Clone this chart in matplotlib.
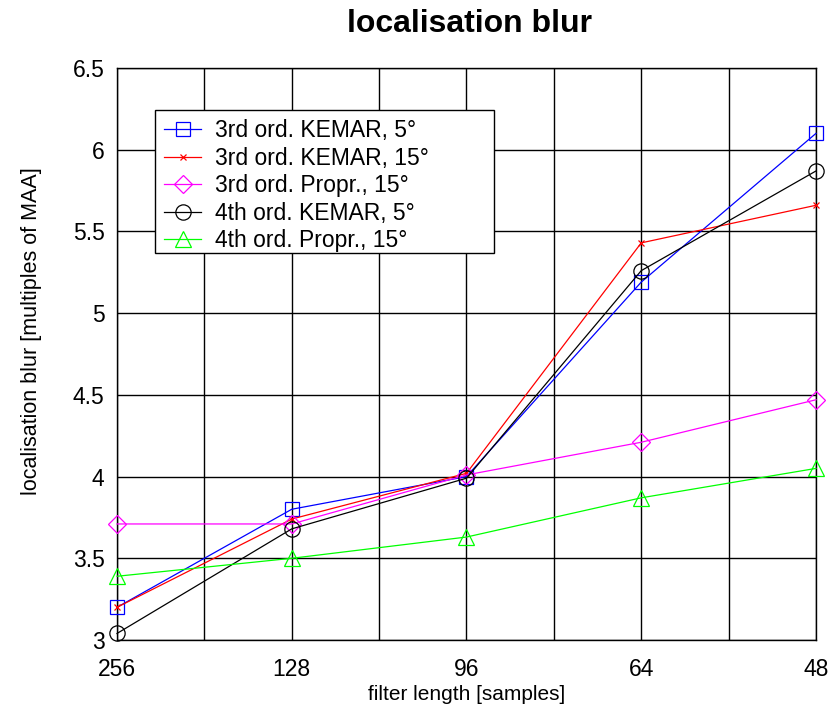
import matplotlib.pyplot as plt
from matplotlib.patches import Rectangle
import numpy as np

plt.rcParams['font.family'] = ['Liberation Sans', 'DejaVu Sans']

# filter lengths (evenly spaced on the x axis)
filter_labels = ['256', '128', '96', '64', '48']

# localisation blur in multiples of MAA
kemar3_5 = [3.20, 3.80, 4.00, 5.19, 6.10]
kemar3_15 = [3.20, 3.74, 4.02, 5.43, 5.66]
propr3_15 = [3.71, 3.71, 4.01, 4.21, 4.47]
kemar4_5 = [3.04, 3.68, 3.99, 5.26, 5.87]
propr4_15 = [3.39, 3.50, 3.63, 3.87, 4.05]

series = [
    ('3rd ord. KEMAR, 5°', kemar3_5, (0, 0, 1), 's', 10),
    ('3rd ord. KEMAR, 15°', kemar3_15, (1, 0, 0), 'x', 5),
    ('3rd ord. Propr., 15°', propr3_15, (1, 0, 1), 'D', 9),
    ('4th ord. KEMAR, 5°', kemar4_5, (0, 0, 0), 'o', 11),
    ('4th ord. Propr., 15°', propr4_15, (0, 1, 0), '^', 11),
]

fig = plt.figure(figsize=(8.37, 7.10), dpi=100)
ax = fig.add_axes([117 / 837, 1 - 640 / 710, (816 - 117) / 837, (640 - 68) / 710])

x = np.arange(1, len(filter_labels) + 1)
for name, vals, col, mk, ms in series:
    ax.plot(x, vals, color=col, lw=0.9, marker=mk, ms=ms, mfc='none',
            mec=col, mew=0.9, label=name, clip_on=False, zorder=3)

ax.set_xlim(1, 5)
ax.set_ylim(3, 6.5)
ax.set_xticks(x)
ax.set_xticklabels(filter_labels)
ax.set_xticks(np.arange(1.5, 5, 1), minor=True)
ax.set_yticks(np.arange(3, 6.51, 0.5))
ax.set_yticklabels(['3', '3.5', '4', '4.5', '5', '5.5', '6', '6.5'])
ax.grid(True, which='both', color='black', lw=1)
ax.set_axisbelow(True)
ax.tick_params(which='both', length=0, labelsize=16.5)
ax.tick_params(axis='x', pad=13)
ax.tick_params(axis='y', pad=9)
for s in ax.spines.values():
    s.set_color('black')
    s.set_linewidth(1)

ax.set_xlabel('filter length [samples]', fontsize=15, labelpad=3)
ax.set_ylabel('localisation blur [multiples of MAA]', fontsize=15.5)
ax.yaxis.set_label_coords(-0.108, 0.54)
fig.text(0.5605, 1 - 24 / 710, 'localisation blur', fontsize=23,
         fontweight='bold', ha='center', va='center')

# legend box (wider than its text)
ax.add_patch(Rectangle((0.0544, 0.6766), 0.4849, 0.25, transform=ax.transAxes,
                       facecolor='white', edgecolor='black', lw=1, zorder=4))
leg = ax.legend(loc='upper left', bbox_to_anchor=(0.0544, 0.9266),
                fontsize=16.5, frameon=False, handlelength=1.6,
                borderpad=0.4, labelspacing=0.2, handletextpad=0.6,
                borderaxespad=0)
leg.set_zorder(5)

fig.savefig('out.png', dpi=100)
